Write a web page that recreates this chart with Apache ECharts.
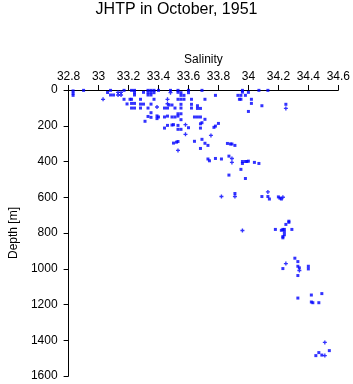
<!DOCTYPE html>
<html>
<head>
<meta charset="utf-8">
<script src="https://cdn.jsdelivr.net/npm/echarts@6/dist/echarts.min.js"></script>
<style>html,body{margin:0;padding:0;background:#fff}#c{width:353px;height:384px}</style>
</head>
<body>
<div id="c"></div>
<script>
const titleText = 'JHTP in October, 1951';
const xName = 'Salinity';
const yName = 'Depth [m]';
const salinityTicks = [32.8, 33, 33.2, 33.4, 33.6, 33.8, 34, 34.2, 34.4, 34.6];
const depthTicks = [0, 200, 400, 600, 800, 1000, 1200, 1400, 1600];

// [salinity, depth] observations drawn as small squares
const squareObs = [
[32.83,5],[32.83,18],[32.83,30],[32.90,2],[33.06,14],[33.08,2],[33.08,28],[33.10,28],[33.17,2],[33.17,52],
[33.19,78],[33.21,52],[33.22,52],[33.22,2],[33.24,2],[33.24,15],[33.24,28],[33.22,75],[33.24,75],[33.22,101],
[33.24,101],[33.28,52],[33.28,79],[33.30,79],[33.28,101],[33.30,13],[33.33,2],[33.33,15],[33.33,28],[33.35,2],
[33.35,15],[33.37,2],[33.37,15],[33.35,28],[33.33,101],[33.35,79],[33.35,127],[33.37,52],[33.33,148],[33.35,153],
[33.31,175],[33.39,145],[33.39,160],
[33.40,2],[33.48,2],[33.53,2],[33.53,13],[33.55,15],[33.55,30],[33.57,30],[33.60,2],[33.60,15],[33.69,2],
[33.53,52],[33.55,52],[33.57,52],[33.62,52],[33.71,52],[33.47,84],[33.49,84],[33.55,80],[33.62,80],[33.66,88],
[33.44,101],[33.46,101],[33.51,101],[33.55,101],[33.62,101],[33.66,103],[33.68,103],[33.53,133],[33.55,133],
[33.53,146],[33.40,151],[33.44,151],[33.46,146],[33.49,151],[33.51,151],[33.55,166],[33.64,151],[33.66,151],
[33.68,151],[33.71,164],[33.68,189],[33.69,183],[33.44,213],[33.46,198],[33.49,196],[33.50,194],[33.53,198],
[33.53,220],[33.55,220],[33.60,211],[33.68,213],[33.64,287],[33.69,276],[33.71,298],[33.73,310],[33.68,327],
[33.50,297],[33.52,292],[33.53,288],
[33.78,30],[33.93,30],[33.95,30],[33.96,12],[33.96,2],[33.94,52],[33.95,52],[33.98,30],[34.00,13],[34.02,52],
[34.02,75],[34.07,2],[34.13,2],[34.09,88],[34.00,120],[34.25,80],[33.80,187],[33.78,202],[33.77,209],[33.86,299],
[33.88,302],[33.89,302],[33.91,310],[33.73,386],[33.74,396],[33.78,383],[33.82,386],[33.87,370],[33.96,400],
[33.96,411],[33.98,400],[33.99,400],[34.00,398],[34.04,405],[34.07,411],[33.95,444],[33.87,476],[33.98,495],
[33.91,579],[34.09,596],[34.13,596],[34.14,610],[34.20,598],[34.21,605],[34.22,610],[34.18,780],[34.22,785],
[34.23,780],[34.24,780],[34.24,795],[34.24,810],[34.23,820],[34.23,827],[34.27,734],[34.27,740],[34.25,752],
[34.29,780],[34.31,941],[34.33,960],[34.23,999],[34.33,986],[34.34,995],[34.40,986],[34.40,1001],[34.33,1038],
[34.33,1164],[34.42,1147],[34.49,1139],[34.42,1186],[34.43,1190],[34.47,1190],[34.54,1458],[34.47,1469],
[34.45,1486],[34.49,1483]
];

// [salinity, depth] observations drawn as small plus signs
const plusObs = [
[33.03,52],[33.13,13],[33.13,28],[33.15,13],[33.15,28],[33.39,95],[33.48,15],[33.46,52],[33.46,77],[33.58,194],
[33.58,248],[33.53,338],[34.25,103],[33.75,254],[33.89,383],[33.89,405],[33.82,596],[33.91,596],[34.13,570],
[34.23,600],[33.96,786],[34.25,971],[34.34,1010],[34.51,1412],[34.51,1486]
];

const FONT = 'Liberation Sans, Arial, Helvetica, sans-serif';
const chart = echarts.init(document.getElementById('c'), null, {renderer: 'canvas'});
chart.setOption({
  animation: false,
  backgroundColor: '#fff',
  title: {
    text: titleText, left: 'center', top: -3,
    textStyle: {fontFamily: FONT, fontSize: 16, fontWeight: 'normal', color: '#000'}
  },
  grid: {left: 54, right: 14, top: 90, bottom: 8, containLabel: false},
  xAxis: {
    type: 'value', position: 'top',
    min: salinityTicks[0], max: salinityTicks[salinityTicks.length - 1], interval: 0.2,
    name: xName, nameLocation: 'middle', nameGap: 21,
    nameTextStyle: {fontFamily: FONT, fontSize: 12, color: '#000'},
    axisLine: {show: true, lineStyle: {color: '#000', width: 1}},
    axisTick: {show: true, length: 5, lineStyle: {color: '#000'}},
    axisLabel: {fontFamily: FONT, fontSize: 12, color: '#000', margin: 7,
      formatter: v => { const t = salinityTicks.find(s => Math.abs(s - v) < 1e-6); return t === undefined ? '' : String(t); }},
    splitLine: {show: false}
  },
  yAxis: {
    type: 'value', inverse: true,
    min: depthTicks[0], max: depthTicks[depthTicks.length - 1], interval: 200,
    name: yName, nameLocation: 'middle', nameGap: 42, nameRotate: 90,
    nameTextStyle: {fontFamily: FONT, fontSize: 12, color: '#000'},
    axisLine: {show: true, lineStyle: {color: '#000', width: 1}},
    axisTick: {show: true, length: 5, lineStyle: {color: '#000'}},
    axisLabel: {fontFamily: FONT, fontSize: 12, color: '#000', margin: 11,
      formatter: v => { const t = depthTicks.find(d => Math.abs(d - v) < 1e-6); return t === undefined ? '' : String(t); }},
    splitLine: {show: false}
  },
  series: [
    {type: 'scatter', data: squareObs, symbol: 'rect', symbolSize: 3,
      itemStyle: {color: '#0000ff'}, clip: false, silent: true},
    {type: 'scatter', data: plusObs, symbol: 'path://M1,0H2V1H3V2H2V3H1V2H0V1H1Z', symbolSize: 4,
      itemStyle: {color: '#0000ff'}, clip: false, silent: true}
  ]
});
</script>
</body>
</html>
